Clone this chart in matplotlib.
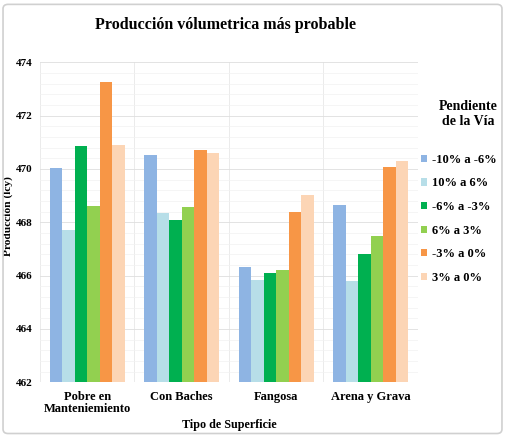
import numpy as np
import matplotlib
matplotlib.use("Agg")
import matplotlib.pyplot as plt
from matplotlib.patches import FancyBboxPatch
from matplotlib.ticker import MultipleLocator

plt.rcParams['font.family'] = ['Liberation Serif', 'DejaVu Serif']
plt.rcParams['font.weight'] = 'bold'

# data
categories = ['Pobre en\nManteniemiento', 'Con Baches', 'Fangosa', 'Arena y Grava']
series_names = ['-10% a -6%', '10% a 6%', '-6% a -3%', '6% a 3%', '-3% a 0%', '3% a 0%']
neg10_neg6 = [470.03, 470.54, 466.34, 468.64]
pos10_pos6 = [467.71, 468.34, 465.84, 465.78]
neg6_neg3 = [470.86, 468.10, 466.11, 466.81]
pos6_pos3 = [468.61, 468.59, 466.21, 467.49]
neg3_0 = [473.25, 470.71, 468.39, 470.09]
pos3_0 = [470.90, 470.59, 469.04, 470.29]
all_series = [neg10_neg6, pos10_pos6, neg6_neg3, pos6_pos3, neg3_0, pos3_0]
colors = ['#8EB4E3', '#B7DEE8', '#00B050', '#92D050', '#F79646', '#FCD5B5']

fig = plt.figure(figsize=(5.05, 4.37), dpi=100)
ax = fig.add_axes([0.0792, 0.1252, 0.7485, 0.7322])

x = np.arange(len(categories))
w = 0.132
base = 462
for i, vals in enumerate(all_series):
    heights = np.array(vals) - base
    ax.bar(x + (i - 2.5) * w, heights, w, bottom=base, color=colors[i],
           label=series_names[i], zorder=3)

ax.set_ylim(462, 474)
ax.set_xlim(-0.5, 3.5)
ax.yaxis.set_major_locator(MultipleLocator(2))
ax.yaxis.set_minor_locator(MultipleLocator(0.4))
ax.set_xticks(x)
ax.set_xticks(np.arange(-0.5, 3.6, 0.5), minor=True)
ax.set_xticklabels(categories, fontsize=9, fontweight='bold', linespacing=1.05)
ax.tick_params(axis='y', labelsize=8, length=0, which='both', pad=5.5)
ax.tick_params(axis='x', length=0, which='both', pad=6)
ax.grid(True, axis='y', which='major', color='#DEDEDE', lw=0.6, zorder=0)
ax.grid(True, axis='y', which='minor', color='#F2F2F2', lw=0.5, zorder=0)
ax.grid(True, axis='x', which='minor', color='#E8E8E8', lw=0.6, zorder=0)
for s in ax.spines.values():
    s.set_visible(False)

ax.set_ylabel('Producción (lcy)', fontsize=8.2, fontweight='bold')
ax.yaxis.set_label_coords(-0.072, 0.52)
ax.set_xlabel('Tipo de Superficie', fontsize=8.7, fontweight='bold', labelpad=3)
fig.text(0.446, 0.942, 'Producción vólumetrica más probable', ha='center',
         va='center', fontsize=11.5, fontweight='bold')

fig.text(0.927, 0.739, 'Pendiente\nde la Vía', ha='center', va='center',
         fontsize=10, fontweight='bold', linespacing=1.2)
ax.legend(loc='upper left', bbox_to_anchor=(0.834, 0.648),
          bbox_transform=fig.transFigure, frameon=False, fontsize=9,
          handlelength=0.5, handleheight=0.5, handletextpad=0.35,
          labelspacing=0.93, borderaxespad=0, borderpad=0)

fig.patches.append(FancyBboxPatch((0.006, 0.008), 0.988, 0.982,
                                  boxstyle='round,pad=0,rounding_size=0.01',
                                  transform=fig.transFigure, fill=False,
                                  edgecolor='#D0D0D0', lw=1.2))

fig.savefig('out.png', dpi=100)
